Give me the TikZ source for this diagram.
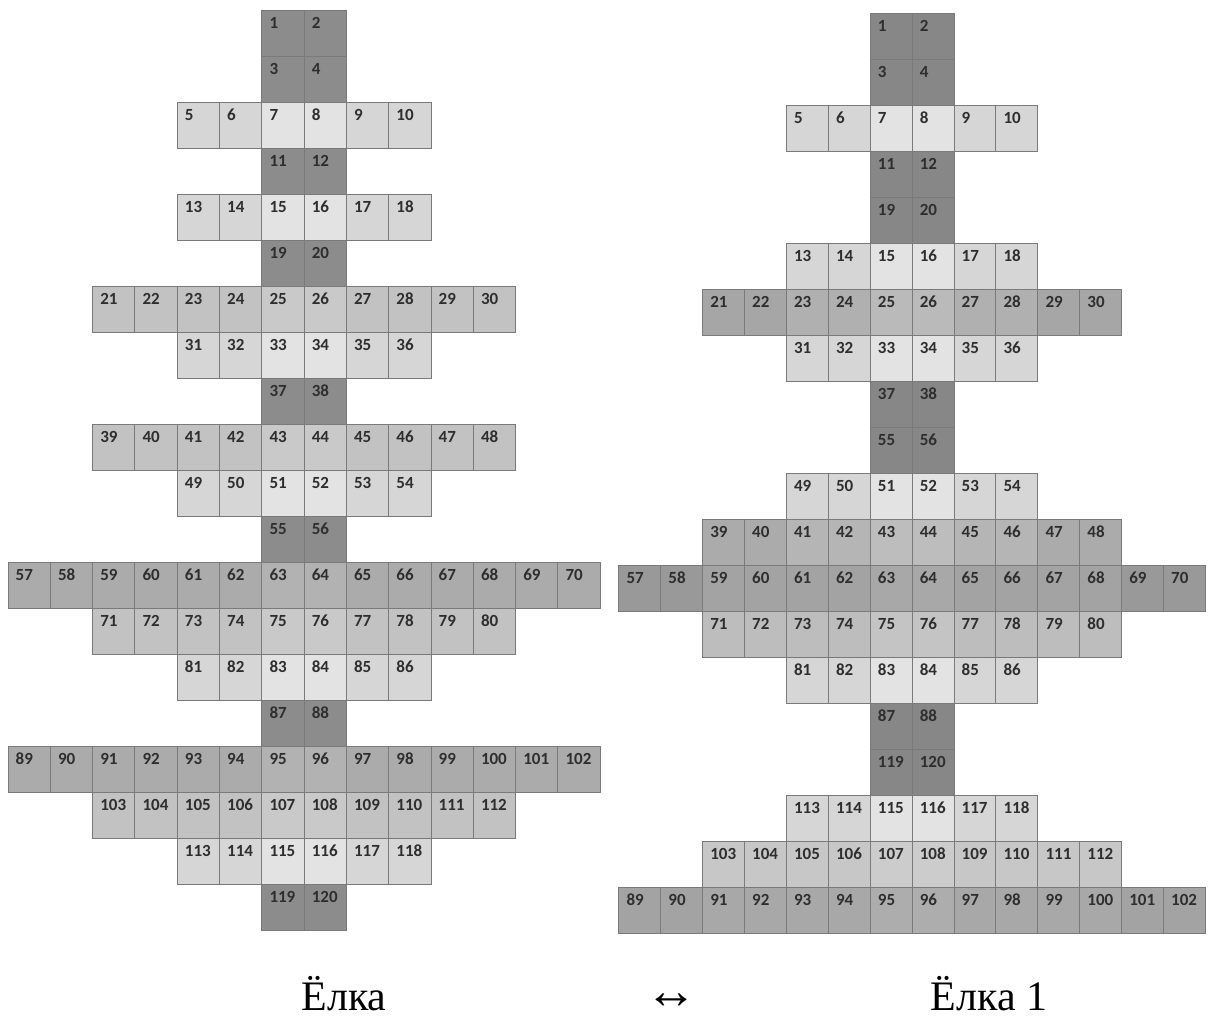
\documentclass[tikz,border=0pt]{standalone}
\usepackage{fontspec}
\usepackage{tikz}
\newfontfamily\numfont{Carlito}
\newfontfamily\capfont{Liberation Serif}

\tikzset{
  cellbox/.style={draw=black!52, line width=0.8pt, minimum height=46pt, inner sep=0pt},
  numtext/.style={anchor=base west, inner sep=0pt, text=black!82,
    font=\numfont\bfseries\fontsize{17}{17}\selectfont},
  captext/.style={anchor=base, inner sep=0pt, font=\capfont\fontsize{42}{42}\selectfont}
}

\begin{document}
\begin{tikzpicture}[x=1pt,y=1pt]
\useasboundingbox (0,0) rectangle (1209,1018);
% left tree: row/first number/cells/fill/centre fill/outer fill
\foreach \r/\s/\n/\c/\cc/\co in {0/1/2/45/45/45, 1/3/2/45/45/45, 2/5/6/16/11/16,
    3/11/2/45/45/45, 4/13/6/16/11/16, 5/19/2/45/45/45, 6/21/10/24/21/24,
    7/31/6/16/11/16, 8/37/2/45/45/45, 9/39/10/24/21/24, 10/49/6/16/11/16,
    11/55/2/45/45/45, 12/57/14/33/30/33, 13/71/10/24/21/24, 14/81/6/16/11/16,
    15/87/2/45/45/45, 16/89/14/33/30/33, 17/103/10/24/21/24, 18/113/6/16/11/16,
    19/119/2/45/45/45}{
  \foreach \k in {1,...,\n}{
    \pgfmathtruncatemacro\cellnum{\s+\k-1}
    \pgfmathtruncatemacro\half{\n/2}
    \pgfmathsetmacro\xx{304+(\k-0.5-\n/2)*42.3}
    \pgfmathsetmacro\yy{1008-(\r+0.5)*46}
    \def\cellshade{\c}
    \ifnum\n>9 \ifnum\k<3 \def\cellshade{\co}\fi
      \ifnum\k>\numexpr\n-2\relax \def\cellshade{\co}\fi\fi
    \ifnum\k=\half \def\cellshade{\cc}\fi
    \ifnum\k=\numexpr\half+1\relax \def\cellshade{\cc}\fi
    \node[cellbox, minimum width=42.3pt, fill=black!\cellshade] (L\cellnum) at (\xx,\yy) {};
    \node[numtext] (Lt\cellnum) at ([shift={(8,-19)}]L\cellnum.north west) {\cellnum};
  }
}
% right tree
\foreach \r/\s/\n/\c/\cc/\co in {0/1/2/47/47/47, 1/3/2/47/47/47, 2/5/6/16/11/16,
    3/11/2/47/47/47, 4/19/2/47/47/47, 5/13/6/16/11/16, 6/21/10/31/27/35,
    7/31/6/16/11/16, 8/37/2/47/47/47, 9/55/2/47/47/47, 10/49/6/16/11/16,
    11/39/10/29/26/33, 12/57/14/36/34/40, 13/71/10/26/23/26, 14/81/6/16/11/16,
    15/87/2/47/47/47, 16/119/2/47/47/47, 17/113/6/16/11/16, 18/103/10/22/20/22,
    19/89/14/34/32/36}{
  \foreach \k in {1,...,\n}{
    \pgfmathtruncatemacro\cellnum{\s+\k-1}
    \pgfmathtruncatemacro\half{\n/2}
    \pgfmathsetmacro\xx{912+(\k-0.5-\n/2)*41.9}
    \pgfmathsetmacro\yy{1005-(\r+0.5)*46}
    \def\cellshade{\c}
    \ifnum\n>9 \ifnum\k<3 \def\cellshade{\co}\fi
      \ifnum\k>\numexpr\n-2\relax \def\cellshade{\co}\fi\fi
    \ifnum\k=\half \def\cellshade{\cc}\fi
    \ifnum\k=\numexpr\half+1\relax \def\cellshade{\cc}\fi
    \node[cellbox, minimum width=41.9pt, fill=black!\cellshade] (R\cellnum) at (\xx,\yy) {};
    \node[numtext] (Rt\cellnum) at ([shift={(8,-19)}]R\cellnum.north west) {\cellnum};
  }
}
% captions
\node[captext] (leftcap) at (344,8) {Ёлка};
\node[captext, font=\capfont\fontsize{52}{52}\selectfont] (swap) at (671,10) {↔};
\node[captext] (rightcap) at (989,8) {Ёлка 1};
\end{tikzpicture}
\end{document}
